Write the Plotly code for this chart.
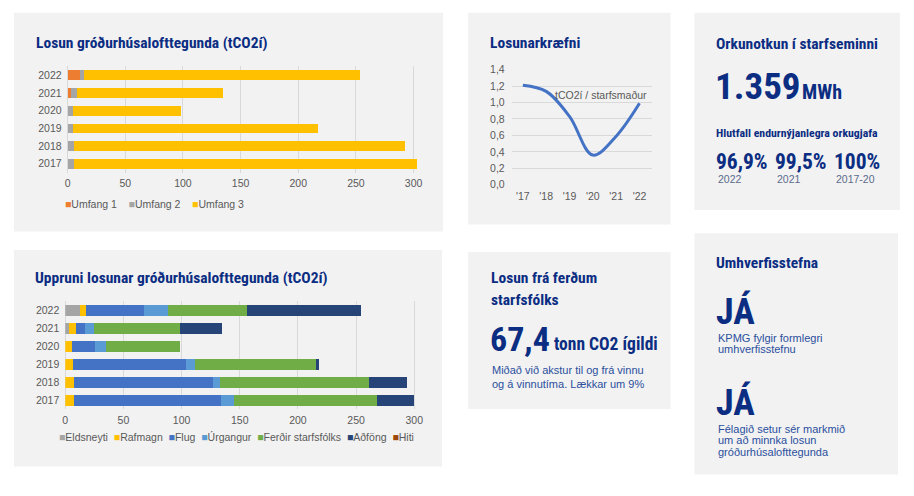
import plotly.graph_objects as go

W, H = 914, 496

# ---------------- data ----------------
years = ["2017", "2018", "2019", "2020", "2021", "2022"]

scope_names = ["Umfang 1", "Umfang 2", "Umfang 3"]
scope_colors = ["#ED7D31", "#A5A5A5", "#FFC000"]
umfang1 = [0, 0, 0, 0, 2.9, 10.9]
umfang2 = [5.5, 5.5, 4.6, 4.6, 4.9, 3.7]
umfang3 = [297.7, 286.8, 212.4, 93.6, 126.6, 238.6]

source_names = ["Eldsneyti", "Rafmagn", "Flug", "Úrgangur", "Ferðir starfsfólks", "Aðföng", "Hiti"]
source_colors = ["#A5A5A5", "#FFC000", "#4472C4", "#5B9BD5", "#70AD47", "#264478", "#9E480E"]
eldsneyti = [0, 0, 0, 0, 2.8, 12.8]
rafmagn = [7.1, 7.1, 6.3, 5.7, 6.8, 5.4]
flug = [126.4, 119.8, 97.4, 19.6, 7.4, 49.8]
urgangur = [11.4, 6.0, 8.0, 9.7, 8.0, 20.5]
ferdir = [122.7, 128.1, 104.8, 63.2, 74.0, 67.4]
adfong = [32.5, 32.7, 1.4, 0, 35.9, 98.5]
hiti = [0, 0, 0, 0, 0, 0]

intensity_labels = ["'17", "'18", "'19", "'20", "'21", "'22"]
intensity = [1.21, 1.135, 0.83, 0.36, 0.59, 0.99]

# ---------------- helpers ----------------
def fx(px):
    return px / W

def fy(py):
    return 1 - py / H

NAVY = "#0B2D82"
BODY_BLUE = "#2A4F9E"
TICK = "#595959"
GRID = "#D9D9D9"
PANEL = "#F2F2F2"
COND = "Roboto Condensed, Open Sans Condensed, DejaVu Sans Condensed, sans-serif"
SANS = "Liberation Sans, Arial, Helvetica, sans-serif"

fig = go.Figure()

for name, col, vals in zip(scope_names, scope_colors, [umfang1, umfang2, umfang3]):
    fig.add_trace(go.Bar(y=years, x=vals, name=name, orientation="h",
                         marker=dict(color=col, line=dict(width=0)), width=0.55,
                         xaxis="x", yaxis="y", showlegend=False))

for name, col, vals in zip(source_names, source_colors,
                           [eldsneyti, rafmagn, flug, urgangur, ferdir, adfong, hiti]):
    fig.add_trace(go.Bar(y=years, x=vals, name=name, orientation="h",
                         marker=dict(color=col, line=dict(width=0)), width=0.6,
                         xaxis="x2", yaxis="y2", showlegend=False))

fig.add_trace(go.Scatter(x=intensity_labels, y=intensity, mode="lines",
                         line=dict(shape="spline", smoothing=1, color="#4472C4", width=3),
                         xaxis="x3", yaxis="y3", showlegend=False))

tickfont = dict(family=SANS, size=10.5, color=TICK)

def bar_x(domain):
    return dict(domain=domain, range=[0, 305], dtick=50, tick0=0, showgrid=True,
                gridcolor=GRID, gridwidth=1, zeroline=True, zerolinecolor=GRID,
                zerolinewidth=1, showline=False, ticks="", tickfont=tickfont,
                ticklabelstandoff=3, fixedrange=True)

def bar_y(domain, anchor):
    return dict(domain=domain, type="category", categoryorder="array",
                categoryarray=years, range=[-0.5, 5.5], showgrid=False,
                showline=False, ticks="", tickfont=tickfont, anchor=anchor,
                ticklabelstandoff=5, fixedrange=True)

c1_px = (413.3 - 65) / 300
c1_step = (161.7 - 71) / 5
c2_px = (414 - 62.7) / 300
c2_step = (404 - 312) / 5

xa1 = bar_x([fx(65), fx(65 + 305 * c1_px)])
xa1["anchor"] = "y"
ya1 = bar_y([fy(161.7 + c1_step / 2), fy(71 - c1_step / 2)], "x")
xa2 = bar_x([fx(62.7), fx(62.7 + 305 * c2_px)])
xa2["anchor"] = "y2"
ya2 = bar_y([fy(404 + c2_step / 2), fy(312 - c2_step / 2)], "x2")

c3_step = (640.7 - 523.3) / 5
xa3 = dict(domain=[fx(523.3 - 0.48 * c3_step), fx(640.7 + 0.52 * c3_step)],
           type="category", range=[-0.48, 5.52], showgrid=False, showline=False,
           ticks="", tickfont=tickfont, anchor="y3", ticklabelstandoff=4, fixedrange=True)
ya3 = dict(domain=[fy(183.3), fy(65)], range=[-0.002, 1.402], dtick=0.2, tick0=0,
           tickformat=".1f", showgrid=True, gridcolor=GRID, gridwidth=1,
           zeroline=False, showline=False, ticks="", tickfont=tickfont,
           anchor="x3", ticklabelstandoff=6, fixedrange=True)

panels = [(11, 7, 443, 231), (11, 250, 442, 472), (468, 7, 672, 224),
          (468, 252, 672, 413), (696, 7, 903, 209), (696, 233, 901, 480)]
shapes = [dict(type="rect", xref="paper", yref="paper", x0=fx(a), x1=fx(c),
               y0=fy(d), y1=fy(b), fillcolor=PANEL, line=dict(width=0), layer="below")
          for a, b, c, d in panels]

ann = []

def txt(x, y, t, size, color, family, bold=False, anchor="left"):
    if bold:
        t = "<b>" + t + "</b>"
    ann.append(dict(x=fx(x), y=fy(y), xref="paper", yref="paper", text=t,
                    showarrow=False, xanchor=anchor, yanchor="middle",
                    font=dict(size=size, color=color, family=family)))

TS = 15.5
txt(31, 38, "Losun gróðurhúsalofttegunda (tCO2í)", TS, NAVY, COND, True)
txt(30, 279, "Uppruni losunar gróðurhúsalofttegunda (tCO2í)", TS, NAVY, COND, True)
txt(488, 38, "Losunarkræfni", TS, NAVY, COND, True)
txt(602, 91, "tCO2í / starfsmaður", 10.5, TICK, SANS, anchor="center")

txt(489, 279, "Losun frá ferðum", TS, NAVY, COND, True)
txt(489, 301, "starfsfólks", TS, NAVY, COND, True)
txt(488, 341, "67,4", 34, NAVY, COND, True)
txt(553, 346, "tonn CO2 ígildi", 17.5, NAVY, COND, True)
txt(490, 373, "Miðað við akstur til og frá vinnu", 11, BODY_BLUE, SANS)
txt(490, 387, "og á vinnutíma. Lækkar um 9%", 11, BODY_BLUE, SANS)

txt(716, 39, "Orkunotkun í starfseminni", TS, NAVY, COND, True)
txt(715, 82, "1.359", 37, NAVY, COND, True)
txt(802, 88, "MWh", 20, NAVY, COND, True)
txt(716, 130, "Hlutfall endurnýjanlegra orkugjafa", 11.8, NAVY, COND, True)
for x0, big, small in [(716, "96,9%", "2022"), (775, "99,5%", "2021"), (834, "100%", "2017-20")]:
    txt(x0, 159, big, 21.5, NAVY, COND, True)
    txt(x0 + 2, 177, small, 10.5, "#5A6B8C", SANS)

txt(716, 263, "Umhverfisstefna", TS, NAVY, COND, True)
txt(716, 313, "JÁ", 36, NAVY, COND, True)
txt(718, 340, "KPMG fylgir formlegri", 11, BODY_BLUE, SANS)
txt(718, 352, "umhverfisstefnu", 11, BODY_BLUE, SANS)
txt(716, 406, "JÁ", 36, NAVY, COND, True)
txt(718, 433, "Félagið setur sér markmið", 11, BODY_BLUE, SANS)
txt(718, 445, "um að minnka losun", 11, BODY_BLUE, SANS)
txt(718, 457, "gróðurhúsalofttegunda", 11, BODY_BLUE, SANS)

def legend_text(names, colors, gap):
    sep = "\u00a0" * gap
    return sep.join(f"<span style='color:{c}'>■</span>{n}" for n, c in zip(names, colors))

txt(60, 203, legend_text(scope_names, scope_colors, 4), 10.5, TICK, SANS)
txt(54, 442, legend_text(source_names, source_colors, 2), 10.5, TICK, SANS)

fig.update_layout(
    width=W, height=H, margin=dict(l=0, r=0, t=0, b=0),
    paper_bgcolor="white", plot_bgcolor="rgba(0,0,0,0)",
    barmode="stack", separators=",.",
    xaxis=xa1, yaxis=ya1, xaxis2=xa2, yaxis2=ya2, xaxis3=xa3, yaxis3=ya3,
    shapes=shapes, annotations=ann, showlegend=False,
)

fig.write_html("out.html", config={"displayModeBar": False},
               post_script="document.documentElement.style.margin='0';document.body.style.margin='0';")
